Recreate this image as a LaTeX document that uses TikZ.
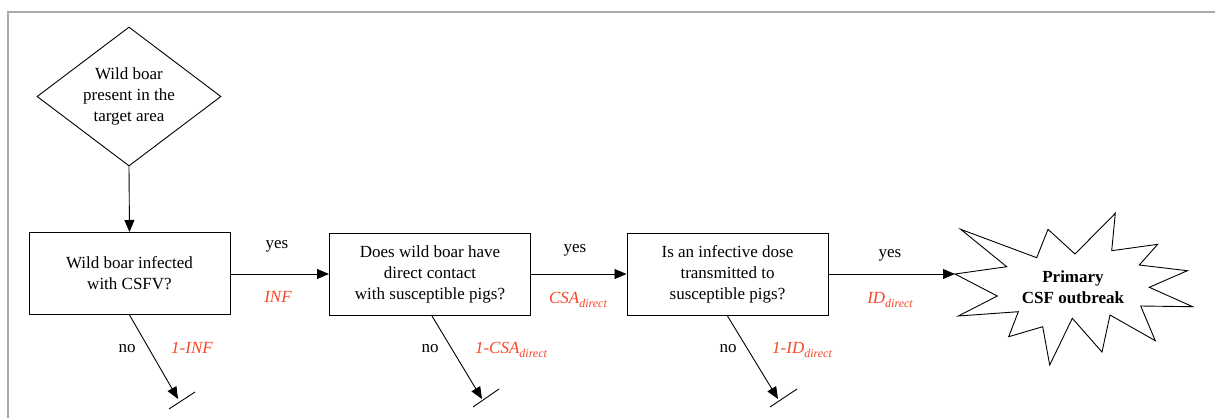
\documentclass[tikz,border=0pt]{standalone}
\usepackage{fontspec}
\setmainfont{Liberation Serif}
\usetikzlibrary{arrows.meta,shapes.geometric}
\definecolor{lblred}{RGB}{250,70,40}
\definecolor{framegray}{RGB}{170,170,170}
\newcommand{\mysubscr}[1]{\raisebox{-4.5pt}{\fontsize{12}{14}\selectfont #1}}
\begin{document}
\begin{tikzpicture}[x=1pt,y=-1pt,
  every node/.style={font=\fontsize{17}{21}\selectfont, inner sep=0pt},
  qbox/.style={draw, line width=1pt, minimum width=201pt, minimum height=82pt, align=center},
  flow/.style={-{Triangle[length=12pt,width=10pt]}, line width=0.9pt},
  plain/.style={font=\fontsize{17}{21}\selectfont},
  prob/.style={text=lblred, font=\fontsize{17}{21}\selectfont\itshape},
  stopbar/.style={line width=0.9pt}
]
\useasboundingbox (0,0) rectangle (1215,418);
\fill[white] (0,0) rectangle (1215,418);
\draw[framegray, line width=1.5pt] (1215,12) -- (8,12) -- (8,418);

% start diamond
\node[draw, diamond, aspect=1.32, line width=0.9pt, minimum width=184pt, minimum height=139pt, align=center] (d) at (129,96.5)
  {Wild boar\\present in the\\target area};

% question boxes
\node[qbox] (b1) at (129.5,273.5) {Wild boar infected\\with CSFV?};
\node[qbox] (b2) at (430,274.5) {Does wild boar have\\direct contact\\with susceptible pigs?};
\node[qbox] (b3) at (727.5,274.5) {Is an infective dose\\transmitted to\\susceptible pigs?};

% outbreak star
\coordinate (tip) at (955,274);
\draw[line width=0.9pt, fill=white]
  (960.7,229.3) -- (1036.7,257.7) -- (1048,229.3) -- (1075,254) -- (1115.3,213.3)
  -- (1111.7,250.7) -- (1157.7,244.3) -- (1139.3,265) -- (1187.3,270.7)
  -- (1149.3,287.3) -- (1192.7,306.7) -- (1140.7,306) -- (1155.3,340.7)
  -- (1110,315) -- (1102,352) -- (1072.3,318.3) -- (1049.7,365)
  -- (1042.7,326.7) -- (1008.7,336.7) -- (1018.3,311.7) -- (958.3,316)
  -- (997.3,296) -- (tip) -- (1006.7,266.7) -- cycle;
\node[align=center, font=\fontsize{17}{21}\selectfont\bfseries] (out) at (1073,287) {Primary\\CSF outbreak};

% main flow
\draw[flow] (d.south) -- (b1.north);
\draw[flow] (b1.east |- 0,274) -- (b2.west |- 0,274);
\draw[flow] (b2.east |- 0,274) -- (b3.west |- 0,274);
\draw[flow] (b3.east |- tip) -- (tip);

% yes labels
\node[plain] (y1) at (277,246) {yes};
\node[prob]  (p1) at (278,297) {INF};
\node[plain] (y2) at (575,250) {yes};
\node[prob]  (p2) at (578,300) {CSA\mysubscr{direct}};
\node[plain] (y3) at (890,255) {yes};
\node[prob]  (p3) at (890,300) {ID\mysubscr{direct}};

% no branches
\coordinate (e1) at (178,399);
\coordinate (s1a) at (169,409); \coordinate (s1b) at (195,392);
\coordinate (e2) at (482,399);
\coordinate (s2a) at (473,407); \coordinate (s2b) at (499,389);
\coordinate (e3) at (778,399);
\coordinate (s3a) at (770,407); \coordinate (s3b) at (797,389);

\draw[flow] (b1.south) -- (e1);
\draw[stopbar] (s1a) -- (s1b);
\draw[flow] ([xshift=2pt]b2.south) -- (e2);
\draw[stopbar] (s2a) -- (s2b);
\draw[flow] (b3.south) -- (e3);
\draw[stopbar] (s3a) -- (s3b);

\node[plain] (n1) at (127,349) {no};
\node[prob]  (q1) at (192,348) {1-INF};
\node[plain] (n2) at (430,349) {no};
\node[prob]  (q2) at (511,350) {1-CSA\mysubscr{direct}};
\node[plain] (n3) at (728,349) {no};
\node[prob]  (q3) at (802,350) {1-ID\mysubscr{direct}};
\end{tikzpicture}
\end{document}
